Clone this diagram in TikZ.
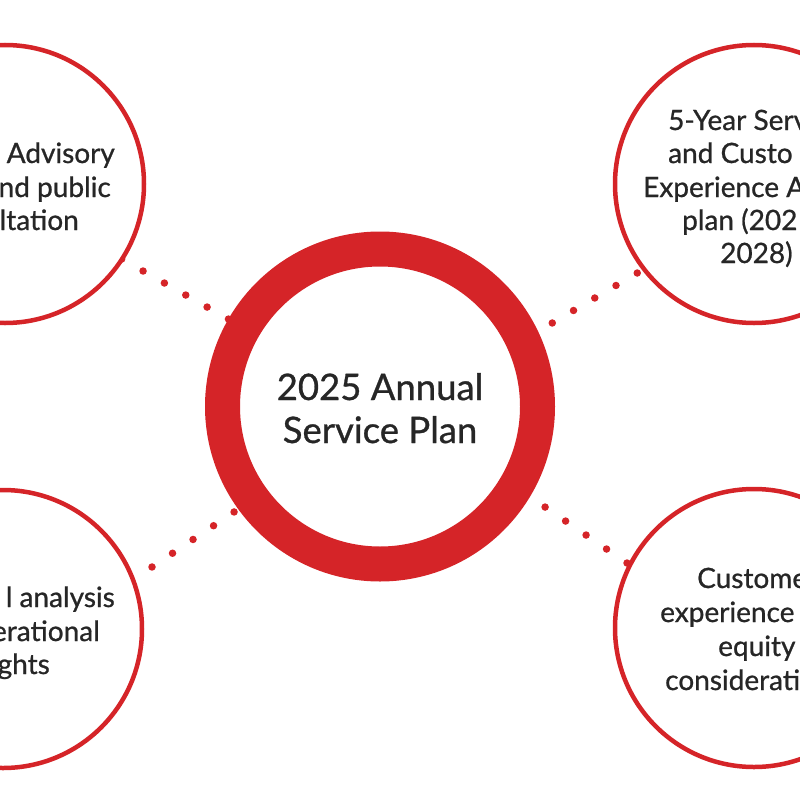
\documentclass[tikz,border=0pt]{standalone}
\usepackage{fontspec}
\setmainfont{Lato}[FakeBold=0.8]
\definecolor{ringred}{HTML}{D52428}
\definecolor{txt}{HTML}{262626}
\begin{document}
\begin{tikzpicture}[x=1pt,y=-1pt,
  hub/.style={circle,draw=ringred,line width=35pt,fill=white,minimum size=315pt,inner sep=0pt},
  sat/.style={circle,draw=ringred,line width=4.5pt,fill=white,minimum size=278pt,inner sep=0pt},
  hubtext/.style={font=\fontsize{36.5}{43}\selectfont,text=txt,inner sep=0pt},
  sattext/.style={font=\fontsize{28}{34}\selectfont,text=txt,inner sep=0pt},
  dotline/.style={draw=ringred,line width=7.5pt,line cap=round,dash pattern=on 0pt off #1}
]
\clip (0,0) rectangle (800,800);
% connector end points
\coordinate (tlA) at (121.7,259);
\coordinate (tlB) at (292.3,355);
\coordinate (trA) at (658.5,260.5);
\coordinate (trB) at (488.5,360.5);
\coordinate (blA) at (131.5,580.75);
\coordinate (blB) at (295.5,470.75);
\coordinate (brA) at (647.5,577);
\coordinate (brB) at (483.5,465);
% dotted connectors
\draw[dotline=24.5pt] (tlA) -- (tlB);
\draw[dotline=24.65pt] (trA) -- (trB);
\draw[dotline=24.7pt] (blA) -- (blB);
\draw[dotline=24.8pt] (brA) -- (brB);
% circles
\node[hub] (c) at (380,406.5) {};
\node[sat] (tl) at (5,184) {};
\node[sat] (tr) at (754,184) {};
\node[sat] (bl) at (3,629) {};
\node[sat] (br) at (754,628) {};
% central text
\node[hubtext,anchor=base] (c1) at (380,400) {2025 Annual};
\node[hubtext,anchor=base] (c2) at (380,443) {Service Plan};
% top left
\node[sattext,anchor=base east] (tl1) at (115,163) {Advisory};
\node[sattext,anchor=base east] (tl2) at (111,197) {nd public};
\node[sattext,anchor=base east] (tl3) at (79,230) {ltation};
% bottom left
\node[sattext,anchor=base east] (bl1) at (115,607) {l analysis};
\node[sattext,anchor=base east] (bl2) at (100,641) {erational};
\node[sattext,anchor=base east] (bl3) at (50,674) {ghts};
% top right
\node[sattext,anchor=base west] (tr1) at (668,130) {5-Year Serv};
\node[sattext,anchor=base west] (tr2) at (668,163) {and Custo};
\node[sattext,anchor=base west] (tr3) at (643,197) {Experience A};
\node[sattext,anchor=base west] (tr4) at (682,230) {plan (202};
\node[sattext,anchor=base west] (tr5) at (720,263) {2028)};
% bottom right
\node[sattext,anchor=base west] (br1) at (697,588) {Custome};
\node[sattext,anchor=base west] (br2) at (660,622) {experience};
\node[sattext,anchor=base west] (br3) at (718,656) {equity};
\node[sattext,anchor=base west] (br4) at (665,690) {considerati};
\end{tikzpicture}
\end{document}
